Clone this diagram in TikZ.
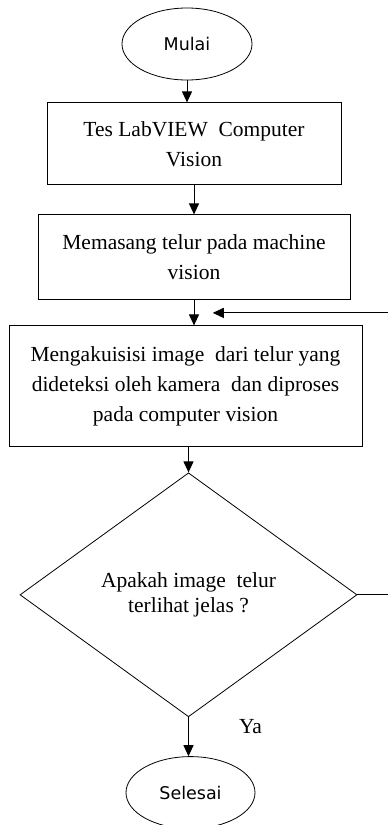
\documentclass[tikz,border=0pt]{standalone}
\usepackage{fontspec}
\setmainfont{Liberation Serif}
\newfontfamily\ovalfont{DejaVu Sans}
\usetikzlibrary{positioning, calc, shapes.geometric, arrows.meta}

\begin{document}
\begin{tikzpicture}[
        node distance=25pt,
        box/.style={rectangle, draw=black, line width=1pt, align=center, inner sep=2pt, font=\fontsize{21.5}{30}\selectfont},
        oval/.style={ellipse, draw=black, line width=0.8pt, minimum width=130pt, minimum height=72pt, font=\ovalfont\fontsize{17.5}{21}\selectfont},
        decision/.style={diamond, draw=black, line width=0.8pt, align=center, inner sep=0pt, minimum width=337pt, minimum height=244pt, font=\fontsize{21.5}{25}\selectfont},
        arrow/.style={-{Triangle[length=11pt, width=10pt]}, line width=1pt}
    ]
        \clip (0,0) rectangle (388pt,-825pt);

        % Start
        \node[oval] (mulai) at (187pt,-44pt) {Mulai};

        % Steps
        \node[box, minimum width=294pt, minimum height=82pt, below=22pt of mulai, xshift=7pt] (tes) {Tes LabVIEW\ \ Computer\\Vision};
        \node[box, minimum width=312pt, minimum height=85pt, below=29pt of tes] (pasang) {Memasang telur pada machine\\vision};
        \node[box, minimum width=353pt, minimum height=121pt, below=of pasang, xshift=-8.5pt] (akuisisi) {Mengakuisisi image\ \ dari telur yang\\dideteksi oleh kamera\ \ dan diproses\\pada computer vision};

        % Check
        \node[decision, below=of akuisisi, xshift=3pt] (cek) {Apakah image\ \ telur\\terlihat jelas ?};

        % End
        \node[oval, minimum width=129pt, below=39pt of cek, xshift=2pt] (selesai) {Selesai};
        \node[font=\fontsize{21.5}{25}\selectfont] (ya) at ([xshift=62pt, yshift=-9pt]cek.south) {Ya};

        % Loop back point
        \coordinate (kembali) at ([xshift=23pt]$(pasang.south)!0.5!(akuisisi.north)$);

        % Arrows
        \draw[arrow] (mulai) -- (mulai |- tes.north);
        \draw[arrow] (tes.south) -- (tes.south |- pasang.north);
        \draw[arrow] (pasang.south) -- (pasang.south |- akuisisi.north);
        \draw[arrow] (akuisisi.south -| cek.north) -- (cek.north);
        \draw[arrow] (cek.south) -- (cek.south |- selesai.north);
        \draw[arrow] (cek.east) -- ++(50pt,0) |- (kembali);
    \end{tikzpicture}
\end{document}
